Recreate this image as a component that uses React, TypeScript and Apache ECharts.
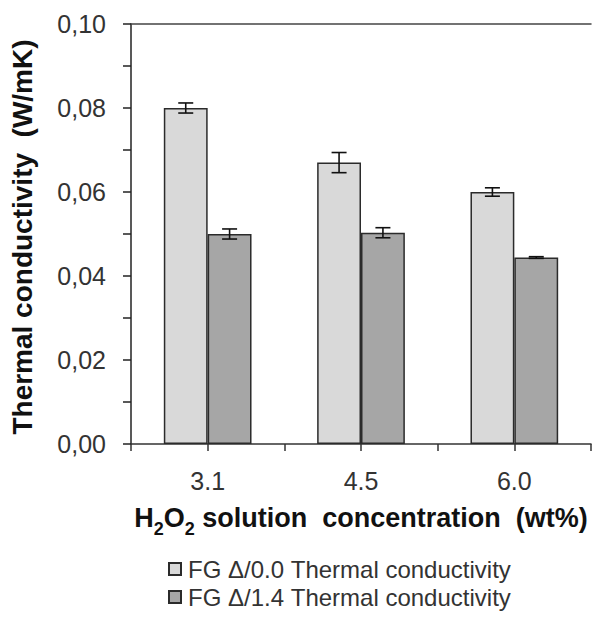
import React, { useEffect, useRef } from "react";
import * as echarts from "echarts";

// H2O2 solution concentration (wt%)
const categories = ["3.1", "4.5", "6.0"];

// Mean thermal conductivity (W/mK) per foamed glass series
const fg00Values = [0.08, 0.067, 0.06];
const fg14Values = [0.05, 0.0503, 0.0444];

// Half-width of the error bars (W/mK)
const fg00Errors = [0.0012, 0.0024, 0.001];
const fg14Errors = [0.0012, 0.0012, 0.0002];

const seriesNames = [
  "FG \u0394/0.0 Thermal conductivity",
  "FG \u0394/1.4 Thermal conductivity",
];

const yTicks = [0, 0.02, 0.04, 0.06, 0.08, 0.1];

const FONT = "'Liberation Sans', Arial, sans-serif";
const BAR_FRACTION = 0.286; // bar width as a share of the category band

function errorSeries(values: number[], errors: number[], side: number) {
  return {
    type: "custom",
    xAxisIndex: 0,
    yAxisIndex: 0,
    silent: true,
    z: 10,
    data: values.map((v, i) => [i, v - errors[i], v + errors[i]]),
    renderItem: (params: any, api: any) => {
      const idx = api.value(0);
      const band = api.size([1, 0])[0];
      const dx = (side * band * BAR_FRACTION) / 2;
      const lo = api.coord([idx, api.value(1)]);
      const hi = api.coord([idx, api.value(2)]);
      const x = lo[0] + dx;
      const cap = 7.5;
      const style = { stroke: "#111", lineWidth: 1.6 };
      return {
        type: "group",
        children: [
          { type: "line", shape: { x1: x, y1: lo[1], x2: x, y2: hi[1] }, style },
          { type: "line", shape: { x1: x - cap, y1: lo[1], x2: x + cap, y2: lo[1] }, style },
          { type: "line", shape: { x1: x - cap, y1: hi[1], x2: x + cap, y2: hi[1] }, style },
        ],
      };
    },
  };
}

export default function App() {
  const ref = useRef<HTMLDivElement>(null);

  useEffect(() => {
    if (!ref.current) return;
    const chart = echarts.init(ref.current, undefined, { renderer: "svg" });

    const barStyle = (color: string) => ({
      color,
      borderColor: "#2b2b2b",
      borderWidth: 1.5,
    });

    chart.setOption({
      animation: false,
      backgroundColor: "#ffffff",
      grid: { left: 129, top: 24, right: 1, bottom: 175, containLabel: false },
      legend: {
        orient: "vertical",
        left: 163,
        top: 552,
        itemWidth: 12,
        itemHeight: 12,
        itemGap: 4,
        icon: "rect",
        data: seriesNames,
        textStyle: {
          fontFamily: FONT,
          fontSize: 24,
          color: "#333",
          padding: [0, 0, 0, 2],
        },
      },
      xAxis: [
        {
          type: "category",
          data: categories,
          position: "bottom",
          boundaryGap: true,
          axisLine: { show: true, lineStyle: { color: "#333", width: 1.5 } },
          axisTick: { show: true, length: 7, lineStyle: { color: "#333", width: 1.5 } },
          axisLabel: {
            fontFamily: FONT,
            fontSize: 25,
            color: "#333",
            margin: 24,
          },
          name: "{m|H}{s|2}{m|O}{s|2}{m| solution  concentration  (wt%)}",
          nameLocation: "middle",
          nameGap: 60,
          nameTextStyle: {
            fontFamily: FONT,
            fontWeight: "bold",
            color: "#111",
            rich: {
              m: { fontFamily: FONT, fontWeight: "bold", fontSize: 27, lineHeight: 32, color: "#111", verticalAlign: "top" },
              s: { fontFamily: FONT, fontWeight: "bold", fontSize: 18, lineHeight: 18, color: "#111", verticalAlign: "top", padding: [16, 0, 0, 0] },
            },
          },
        },
        {
          // extra ticks at the category centres
          type: "category",
          data: categories,
          position: "bottom",
          axisLine: { show: false },
          axisTick: { show: true, alignWithLabel: true, length: 7, lineStyle: { color: "#333", width: 1.5 } },
          axisLabel: { show: false },
        },
        {
          // plot-area top border
          type: "category",
          data: categories,
          position: "top",
          axisLine: { show: true, lineStyle: { color: "#444", width: 1.5 } },
          axisTick: { show: false },
          axisLabel: { show: false },
        },
      ],
      yAxis: {
        type: "value",
        min: 0,
        max: 0.1,
        interval: 0.02,
        splitLine: { show: false },
        axisLine: { show: true, lineStyle: { color: "#222", width: 1.5 } },
        axisTick: { show: true, length: 8, lineStyle: { color: "#222", width: 1.5 } },
        minorTick: { show: true, splitNumber: 2, length: 8, lineStyle: { color: "#222", width: 1.5 } },
        axisLabel: {
          fontFamily: FONT,
          fontSize: 25,
          color: "#333",
          margin: 25,
          formatter: (v: number) =>
            yTicks.some((t) => Math.abs(t - v) < 1e-9) ? v.toFixed(2).replace(".", ",") : "",
        },
        name: "Thermal conductivity  (W/mK)",
        nameLocation: "middle",
        nameGap: 95,
        nameTextStyle: {
          fontFamily: FONT,
          fontWeight: "bold",
          fontSize: 28,
          color: "#111",
          padding: [0, 6, 0, 0],
        },
      },
      series: [
        {
          name: seriesNames[0],
          type: "bar",
          xAxisIndex: 0,
          data: fg00Values,
          barWidth: `${BAR_FRACTION * 100}%`,
          barGap: "0%",
          itemStyle: barStyle("#d9d9d9"),
        },
        {
          name: seriesNames[1],
          type: "bar",
          xAxisIndex: 0,
          data: fg14Values,
          barWidth: `${BAR_FRACTION * 100}%`,
          barGap: "0%",
          itemStyle: barStyle("#a6a6a6"),
        },
        errorSeries(fg00Values, fg00Errors, -1),
        errorSeries(fg14Values, fg14Errors, 1),
      ],
    });

    return () => chart.dispose();
  }, []);

  return (
    <div
      ref={ref}
      style={{ position: "fixed", left: 0, top: 0, width: 592, height: 619 }}
    />
  );
}
